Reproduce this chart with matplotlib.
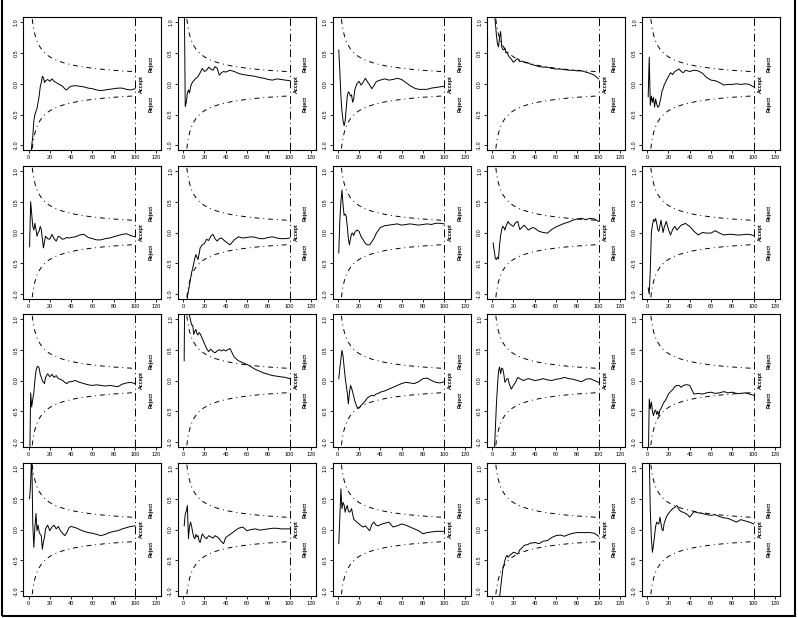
import numpy as np
import matplotlib.pyplot as plt
from matplotlib.patches import Rectangle

# sample sizes at which the running statistic was read
n = [1, 2, 3, 4, 5, 6, 7, 8, 9, 10, 11, 12, 13, 14, 15, 16,
     18, 20, 22, 24, 26, 28, 30, 32, 34, 36, 38, 40,
     44, 48, 52, 56, 60, 64, 68, 72, 76, 80, 84, 88, 92, 96, 100]

# boundary (upper; lower is the mirror)
bn = [3, 4, 5, 6, 7, 8, 9, 10, 12, 14, 16, 18, 20, 23, 26, 30, 35, 40, 45, 50, 60, 70, 80, 90, 100]
bv = [1.13, 0.98, 0.877, 0.80, 0.741, 0.693, 0.653, 0.62, 0.566, 0.524, 0.49, 0.462, 0.438,
      0.409, 0.384, 0.358, 0.331, 0.31, 0.292, 0.277, 0.253, 0.234, 0.219, 0.207, 0.196]

a11 = [-1.6, -1.3, -1.0, -0.86, -0.6, -0.5, -0.45, -0.4, -0.3, -0.2, -0.05, 0.02, 0.12, 0.1, 0.02, 0.05,
       0.07, 0.04, 0.08, 0.04, 0.02, 0.0, -0.02, -0.04, -0.08, -0.1, -0.06, -0.04,
       -0.03, -0.04, -0.05, -0.07, -0.08, -0.1, -0.11, -0.1, -0.09, -0.08, -0.07, -0.07, -0.09, -0.1, -0.08]
a12 = [1.6, -0.37, -0.3, -0.15, -0.1, -0.15, -0.05, 0.0, 0.03, 0.05, 0.07, 0.09, 0.1, 0.12, 0.15, 0.18,
       0.25, 0.2, 0.22, 0.27, 0.24, 0.22, 0.28, 0.25, 0.14, 0.18, 0.2, 0.19,
       0.22, 0.2, 0.17, 0.15, 0.14, 0.13, 0.12, 0.1, 0.09, 0.07, 0.06, 0.08, 0.07, 0.06, 0.05]
a13 = [0.55, 0.2, -0.2, -0.45, -0.6, -0.68, -0.6, -0.4, -0.2, -0.13, -0.15, -0.2, -0.18, -0.3, -0.25, -0.1,
       0.0, 0.04, -0.02, 0.03, 0.09, 0.03, -0.02, -0.08, -0.03, 0.03, 0.05, 0.06,
       0.08, 0.06, 0.07, 0.09, 0.07, 0.02, -0.03, -0.07, -0.09, -0.09, -0.09, -0.07, -0.06, -0.05, -0.04]
a14 = [1.8, 1.2, 1.0, 0.8, 0.65, 0.6, 0.75, 0.85, 0.6, 0.56, 0.55, 0.58, 0.5, 0.52, 0.47, 0.44,
       0.4, 0.35, 0.38, 0.41, 0.36, 0.37, 0.35, 0.34, 0.34, 0.32, 0.31, 0.3,
       0.28, 0.27, 0.27, 0.25, 0.24, 0.24, 0.23, 0.22, 0.22, 0.21, 0.21, 0.19, 0.17, 0.14, 0.08]
a15 = [-0.21, 0.43, -0.35, -0.2, -0.3, -0.22, -0.38, -0.25, -0.33, -0.38, -0.37, -0.3, -0.22, -0.12, -0.08, -0.02,
       0.05, 0.12, 0.18, 0.15, 0.2, 0.22, 0.24, 0.2, 0.18, 0.22, 0.21, 0.2,
       0.22, 0.21, 0.17, 0.1, 0.06, 0.05, 0.02, -0.02, -0.01, -0.01, 0.0, -0.01, 0.0, -0.01, -0.05]
a21 = [-0.23, 0.5, 0.3, 0.1, 0.04, 0.15, 0.05, -0.06, 0.0, 0.02, 0.1, 0.05, -0.1, -0.25, -0.15, -0.06,
       -0.1, -0.11, -0.03, -0.1, -0.14, -0.06, -0.08, -0.11, -0.1, -0.08, -0.09, -0.08,
       -0.07, -0.04, -0.03, -0.08, -0.1, -0.12, -0.12, -0.1, -0.09, -0.07, -0.05, -0.03, -0.02, -0.05, -0.07]
a22 = [-2.0, -1.6, -1.3, -1.05, -0.95, -0.85, -0.75, -0.65, -0.58, -0.5, -0.42, -0.36, -0.4, -0.44, -0.35, -0.25,
       -0.2, -0.18, -0.11, -0.13, -0.06, -0.03, -0.1, -0.14, -0.1, -0.09, -0.12, -0.15,
       -0.2, -0.12, -0.07, -0.09, -0.08, -0.07, -0.08, -0.1, -0.1, -0.08, -0.07, -0.09, -0.1, -0.1, -0.09]
a23 = [-0.33, 0.2, 0.5, 0.69, 0.45, 0.28, 0.3, 0.26, 0.1, -0.1, -0.2, -0.1, -0.02, -0.01, -0.05, 0.0,
       0.04, 0.02, -0.07, -0.12, -0.18, -0.2, -0.2, -0.15, -0.1, -0.02, 0.03, 0.08,
       0.11, 0.12, 0.13, 0.14, 0.12, 0.13, 0.14, 0.13, 0.12, 0.13, 0.14, 0.13, 0.15, 0.15, 0.14]
a24 = [-0.17, -0.3, -0.42, -0.44, -0.4, -0.43, -0.2, -0.05, 0.05, 0.1, 0.08, 0.04, 0.1, 0.14, 0.18, 0.15,
       0.12, 0.1, 0.16, 0.18, 0.05, 0.08, 0.12, 0.08, 0.04, 0.06, 0.08, 0.07,
       0.02, 0.0, -0.01, 0.05, 0.09, 0.12, 0.15, 0.17, 0.2, 0.22, 0.23, 0.21, 0.23, 0.22, 0.18]
a25 = [-0.9, -1.0, -0.6, 0.0, 0.12, 0.21, 0.18, 0.23, 0.15, 0.05, 0.02, 0.1, 0.2, 0.1, 0.0, 0.08,
       0.18, 0.05, -0.04, 0.05, 0.1, 0.04, 0.08, 0.12, 0.13, 0.15, 0.12, 0.1,
       0.02, -0.04, 0.0, -0.01, -0.01, 0.03, -0.01, -0.04, -0.03, -0.03, -0.04, -0.04, -0.03, -0.03, -0.05]
a31 = [-1.5, -0.2, -0.43, -0.3, -0.2, 0.0, 0.15, 0.22, 0.23, 0.2, 0.1, 0.05, 0.0, -0.03, -0.05, 0.05,
       0.11, 0.06, 0.1, 0.05, 0.08, 0.03, 0.02, 0.0, -0.03, -0.05, -0.02, -0.02,
       0.0, -0.03, -0.05, -0.07, -0.08, -0.07, -0.08, -0.09, -0.08, -0.09, -0.1, -0.06, -0.04, -0.03, -0.05]
a32 = [0.32, 2.5, 1.6, 1.3, 1.15, 1.05, 0.98, 0.9, 0.9, 0.75, 0.8, 0.83, 0.76, 0.74, 0.78, 0.76,
       0.68, 0.6, 0.52, 0.47, 0.51, 0.47, 0.45, 0.48, 0.5, 0.48, 0.5, 0.48,
       0.52, 0.38, 0.32, 0.29, 0.26, 0.22, 0.18, 0.15, 0.12, 0.1, 0.08, 0.07, 0.06, 0.05, 0.03]
a33 = [0.03, 0.2, 0.35, 0.49, 0.4, 0.22, 0.05, -0.08, -0.2, -0.38, -0.2, -0.08, -0.12, -0.19, -0.25, -0.33,
       -0.43, -0.45, -0.4, -0.37, -0.33, -0.28, -0.26, -0.24, -0.25, -0.22, -0.21, -0.19,
       -0.17, -0.14, -0.11, -0.08, -0.05, -0.03, -0.04, -0.05, -0.02, 0.03, 0.04, 0.0, -0.03, -0.04, -0.02]
a34 = [-1.5, -1.2, -0.8, -0.4, -0.1, 0.15, 0.22, 0.11, 0.2, 0.19, 0.1, -0.03, 0.0, 0.03, 0.03, -0.05,
       -0.14, -0.08, -0.03, 0.05, 0.03, 0.01, 0.0, 0.02, 0.03, 0.02, 0.01, 0.0,
       0.01, 0.03, 0.01, 0.0, 0.02, 0.03, 0.05, 0.03, 0.02, 0.0, -0.02, 0.02, 0.03, 0.0, -0.03]
a35 = [-1.5, -0.3, -0.46, -0.35, -0.5, -0.57, -0.5, -0.48, -0.55, -0.5, -0.57, -0.48, -0.46, -0.42, -0.38, -0.35,
       -0.3, -0.22, -0.18, -0.15, -0.1, -0.08, -0.08, -0.11, -0.08, -0.07, -0.07, -0.08,
       -0.22, -0.21, -0.22, -0.2, -0.19, -0.21, -0.2, -0.18, -0.2, -0.19, -0.21, -0.21, -0.2, -0.22, -0.24]
a41 = [0.5, 0.75, 1.3, 0.09, -0.29, 0.04, 0.26, -0.02, 0.07, -0.04, -0.08, -0.1, -0.32, -0.2, -0.13, 0.01,
       0.07, -0.02, 0.04, 0.07, 0.01, 0.05, -0.02, -0.06, -0.1, -0.05, 0.03, 0.05,
       0.03, 0.0, -0.03, -0.05, -0.06, -0.08, -0.1, -0.08, -0.05, -0.03, -0.02, 0.01, 0.03, 0.05, 0.06]
a42 = [0.06, 0.25, 0.3, 0.39, -0.15, 0.05, 0.12, 0.05, -0.05, -0.12, -0.15, -0.08, -0.12, -0.1, -0.18, -0.21,
       -0.07, -0.12, -0.15, -0.1, -0.12, -0.14, -0.1, -0.12, -0.15, -0.2, -0.23, -0.13,
       -0.08, -0.03, 0.02, 0.04, -0.02, 0.0, 0.01, -0.01, 0.0, 0.01, 0.02, 0.02, 0.01, 0.01, 0.01]
a43 = [-0.23, 0.2, 0.66, 0.34, 0.44, 0.4, 0.28, 0.35, 0.39, 0.3, 0.28, 0.3, 0.34, 0.25, 0.17, 0.15,
       0.12, 0.09, 0.06, 0.04, 0.06, 0.02, -0.02, 0.08, 0.12, 0.07, 0.06, 0.08,
       0.1, 0.12, 0.04, 0.06, 0.09, 0.07, 0.04, 0.01, -0.02, -0.07, -0.05, -0.04, -0.03, -0.03, -0.03]
a44 = [-2.5, -2.0, -1.7, -1.5, -1.35, -1.2, -1.1, -0.95, -0.8, -0.65, -0.58, -0.5, -0.45, -0.42, -0.45, -0.43,
       -0.4, -0.37, -0.38, -0.4, -0.33, -0.3, -0.26, -0.25, -0.24, -0.22, -0.22, -0.21,
       -0.23, -0.19, -0.18, -0.13, -0.1, -0.09, -0.11, -0.08, -0.06, -0.05, -0.05, -0.05, -0.05, -0.06, -0.11]
a45 = [1.8, 1.2, 0.3, -0.15, -0.37, -0.25, -0.1, 0.05, 0.12, 0.1, 0.09, 0.2, 0.1, 0.0, -0.02, 0.1,
       0.2, 0.26, 0.3, 0.34, 0.36, 0.39, 0.32, 0.29, 0.28, 0.26, 0.24, 0.2,
       0.29, 0.27, 0.26, 0.24, 0.23, 0.24, 0.21, 0.19, 0.18, 0.15, 0.12, 0.16, 0.14, 0.12, 0.09]

rows = [[a11, a12, a13, a14, a15],
        [a21, a22, a23, a24, a25],
        [a31, a32, a33, a34, a35],
        [a41, a42, a43, a44, a45]]

xt = [0, 20, 40, 60, 80, 100, 120]
yt = [-1.0, -0.5, 0.0, 0.5, 1.0]
ytl = ['-1.0', '-0.5', '0.0', '0.5', '1.0']

plt.rcParams['font.family'] = ['Liberation Sans', 'DejaVu Sans']

W, H = 798, 618
fig = plt.figure(figsize=(W / 100, H / 100), dpi=100)

lefts = [23.4, 178, 332.6, 487, 642]
tops = [17.3, 166, 314, 463]
aw, ah = 138, 133
bstyle = (0, (1, 4, 5, 4))   # dot-dash for boundaries
vstyle = (0, (8, 3.5, 1, 3.5))   # long dash / dot for n = 100

for r, row in enumerate(rows):
    for c, vals in enumerate(row):
        ax = fig.add_axes([lefts[c] / W, 1 - (tops[r] + ah) / H, aw / W, ah / H])
        ax.plot(n, vals, color='black', lw=0.7)
        ax.plot(bn, bv, color='black', lw=0.7, ls=bstyle)
        ax.plot(bn, [-v for v in bv], color='black', lw=0.7, ls=bstyle)
        ax.axvline(100, color='black', lw=0.7, ls=vstyle)
        ax.text(115, 0.32, 'Reject', rotation=90, fontsize=3.8, fontweight='bold', ha='center', va='center')
        ax.text(106, 0.0, 'Accept', rotation=90, fontsize=3.8, fontweight='bold', ha='center', va='center')
        ax.text(115, -0.32, 'Reject', rotation=90, fontsize=3.8, fontweight='bold', ha='center', va='center')
        ax.set_xlim(-4.8, 124.8)
        ax.set_ylim(-1.08, 1.08)
        ax.set_xticks(xt)
        ax.set_xticklabels([str(v) for v in xt])
        ax.set_yticks(yt)
        ax.set_yticklabels(ytl, rotation=90, va='center')
        ax.tick_params(labelsize=4, length=2, width=0.6, pad=1.5)
        for s in ax.spines.values():
            s.set_linewidth(0.8)

# outer frame
fig.add_artist(Rectangle((1.5 / W, 2 / H), 793.5 / W, 1.2, transform=fig.transFigure,
                         fill=False, lw=1.5, color='black'))

fig.savefig('out.png', dpi=100)
